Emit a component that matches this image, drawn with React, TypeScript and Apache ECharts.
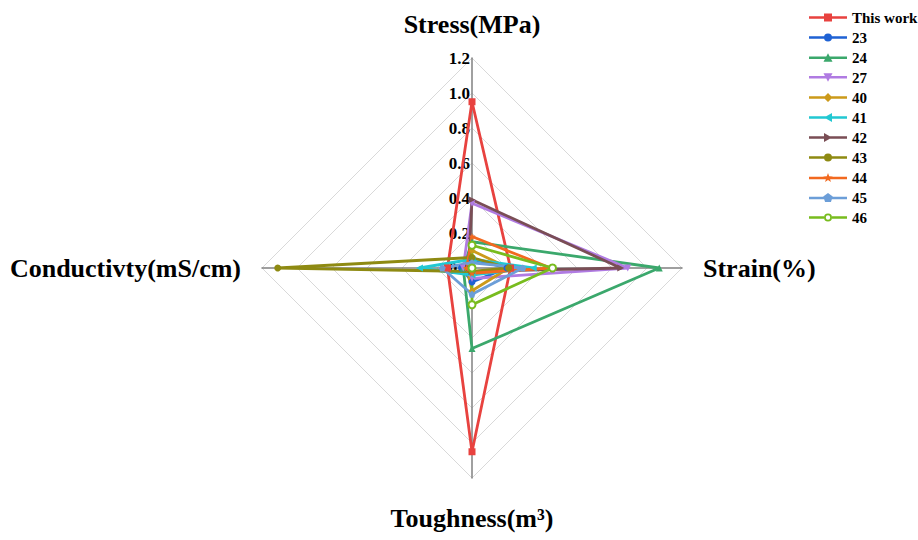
import React, { useEffect, useRef } from "react";
import * as echarts from "echarts";

// Indicator order (ECharts radar runs counter-clockwise from top): Stress, Conductivity, Toughness, Strain
const indicatorNames = ["Stress(MPa)", "Conductivty(mS/cm)", "Toughness(m³)", "Strain(%)"];
const axisMax = 1.2;

const seriesNames = ["This work", "23", "24", "27", "40", "41", "42", "43", "44", "45", "46"];
// values: [stress, conductivity, toughness, strain]
const thisWork = [0.95, 0.14, 1.05, 0.22];
const ref23 = [0.05, 0.06, 0.08, 0.2];
const ref24 = [0.15, 0.05, 0.46, 1.07];
const ref27 = [0.37, 0.05, 0.06, 0.89];
const ref40 = [0.1, 0.03, 0.13, 0.21];
const ref41 = [0.05, 0.3, 0.04, 0.35];
const ref42 = [0.39, 0.02, 0.02, 0.85];
const ref43 = [0.06, 1.11, 0.02, 0.21];
const ref44 = [0.18, 0.03, 0.03, 0.45];
const ref45 = [0.03, 0.17, 0.15, 0.29];
const ref46 = [0.13, 0.0, 0.21, 0.46];
const seriesValues = [thisWork, ref23, ref24, ref27, ref40, ref41, ref42, ref43, ref44, ref45, ref46];

const colors = [
  "#E8423F", "#1F62D4", "#3BA86C", "#B07BE2", "#CC9A1A", "#22C8D2",
  "#7A4E55", "#8E8A12", "#F2691F", "#6C9ED8", "#78BC1E",
];

const STAR = "M5,0 L6.176,3.382 L9.755,3.455 L6.902,5.618 L7.939,9.045 L5,7 L2.061,9.045 L3.098,5.618 L0.245,3.455 L3.824,3.382 Z";
const PENT = "M5,0 L9.755,3.455 L7.939,9.045 L2.061,9.045 L0.245,3.455 Z";
const symbols = [
  "rect", "circle", "triangle", "path://M0,0 L10,0 L5,9 Z", "diamond",
  "path://M0,5 L9,0 L9,10 Z", "path://M9,5 L0,10 L0,0 Z", "circle",
  "path://" + STAR, "path://" + PENT, "emptyCircle",
];

// legend icons: line + marker in a 38x10 frame
const LINE = "M0,3.8 L38,3.8 L38,6.2 L0,6.2 Z ";
const shift = (d: string) =>
  d.replace(/(-?\d+\.?\d*),(-?\d+\.?\d*)/g, (_m, a, b) => `${(parseFloat(a) + 14).toFixed(3)},${b}`);
const legendIcons = [
  LINE + "M15,1 L23,1 L23,9 L15,9 Z",
  LINE + "M23,5 A4,4 0 1 1 15,5 A4,4 0 1 1 23,5 Z",
  LINE + "M19,0.5 L23.5,9 L14.5,9 Z",
  LINE + "M14.5,1 L23.5,1 L19,9.5 Z",
  LINE + "M19,0.5 L23.5,5 L19,9.5 L14.5,5 Z",
  LINE + "M15,5 L23,0.5 L23,9.5 Z",
  LINE + "M23,5 L15,9.5 L15,0.5 Z",
  LINE + "M23,5 A4,4 0 1 1 15,5 A4,4 0 1 1 23,5 Z",
  LINE + shift(STAR),
  LINE + shift(PENT),
  "M0,3.8 L15,3.8 L15,6.2 L0,6.2 Z M23,3.8 L38,3.8 L38,6.2 L23,6.2 Z " +
    "M23,5 A4,4 0 1 1 15,5 A4,4 0 1 1 23,5 Z M21.2,5 A2.2,2.2 0 1 0 16.8,5 A2.2,2.2 0 1 0 21.2,5 Z",
];

const SERIF = "'Liberation Serif', 'Times New Roman', serif";

export default function App() {
  const ref = useRef<HTMLDivElement>(null);
  useEffect(() => {
    document.body.style.margin = "0";
    if (!ref.current) return;
    const chart = echarts.init(ref.current, null, { renderer: "svg" });
    chart.setOption({
      animation: false,
      backgroundColor: "#ffffff",
      legend: {
        orient: "vertical",
        left: 804,
        top: 5,
        itemWidth: 38,
        itemHeight: 14,
        itemGap: 5,
        textStyle: { fontFamily: SERIF, fontWeight: "bold", fontSize: 15, color: "#000" },
        data: seriesNames.map((n, i) => ({ name: n, icon: "path://" + legendIcons[i], itemStyle: { color: colors[i] } })),
      },
      radar: {
        center: [472, 268],
        radius: 210,
        startAngle: 90,
        splitNumber: 6,
        shape: "polygon",
        nameGap: 21,
        axisName: { color: "#000", fontFamily: SERIF, fontWeight: "bold", fontSize: 26 },
        indicator: indicatorNames.map((n, i) => {
          const ind: any = { name: n, min: 0, max: axisMax };
          if (i !== 0) ind.axisLabel = { show: false };
          if (i === 2) ind.nameTextStyle = { padding: [6, 0, 0, 0] };
          return ind;
        }),
        axisLine: { lineStyle: { color: "#808080", width: 1.5 } },
        axisTick: { show: false },
        axisLabel: {
          show: true,
          color: "#000",
          fontFamily: SERIF,
          fontWeight: "bold",
          fontSize: 17,
          margin: 2,
          formatter: (v: number) => v.toFixed(1),
        },
        splitLine: { lineStyle: { color: "#d9d9d9", width: 1 } },
        splitArea: { show: false },
      },
      series: seriesNames.map((n, i) => ({
        type: "radar",
        name: n,
        symbol: symbols[i],
        symbolSize: 7,
        lineStyle: { width: 2.8, color: colors[i] },
        itemStyle: { color: colors[i] },
        data: [{ name: n, value: seriesValues[i] }],
      })),
    });
    return () => chart.dispose();
  }, []);
  return <div ref={ref} style={{ width: 918, height: 540 }} />;
}
